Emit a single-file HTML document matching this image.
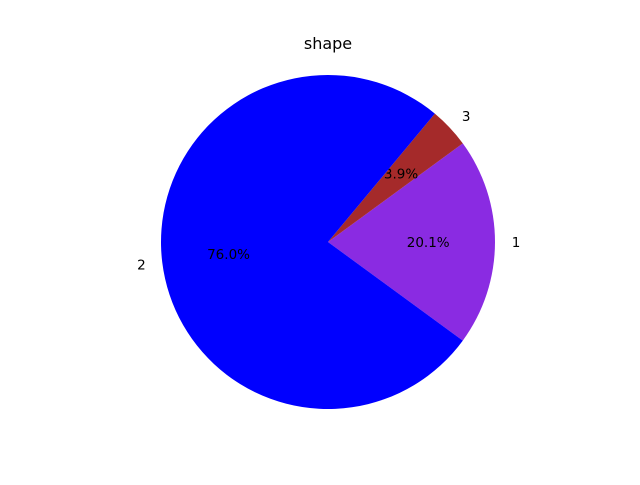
<!DOCTYPE html>
<html><head><meta charset="utf-8"><style>
body{margin:0;background:#fff;}
text{font-family:"DejaVu Sans","Liberation Sans",sans-serif;}
</style></head><body>
<svg id="chart" width="640" height="480" viewBox="0 0 640 480" xmlns="http://www.w3.org/2000/svg">
<rect width="640" height="480" fill="#fff"/>
<text x="328" y="49" text-anchor="middle" font-size="16">shape</text>
<g id="slices"></g>
</svg>
<script>
const labels = ["1", "3", "2"];
const values = [20.1, 3.9, 76.0];
const colors = ["#8a2be2", "#a52a2a", "#0000ff"];
const cx = 328, cy = 242, r = 167;
const total = values.reduce((a,b)=>a+b,0);
const g = document.getElementById('slices');
const NS = "http://www.w3.org/2000/svg";
let start = -values[0]/total*180;
function pt(a, rad){ const t=a*Math.PI/180; return [cx+rad*Math.cos(t), cy-rad*Math.sin(t)]; }
values.forEach((v,i)=>{
  const span = v/total*360, end = start+span;
  const [x1,y1]=pt(start,r), [x2,y2]=pt(end,r);
  const p=document.createElementNS(NS,'path');
  p.setAttribute('d',`M${cx},${cy} L${x1},${y1} A${r},${r} 0 ${span>180?1:0} 0 ${x2},${y2} Z`);
  p.setAttribute('fill',colors[i]);
  
  
  g.appendChild(p);
  const mid=start+span/2;
  const [lx,ly]=pt(mid,r*1.1);
  const t=document.createElementNS(NS,'text');
  t.setAttribute('x',lx); t.setAttribute('y',ly+5);
  t.setAttribute('font-size','13.5');
  t.setAttribute('text-anchor', Math.cos(mid*Math.PI/180)>=0?'start':'end');
  t.textContent=labels[i];
  
  
  g.appendChild(t);
  const [px,py]=pt(mid,r*0.6);
  const q=document.createElementNS(NS,'text');
  q.setAttribute('x',px); q.setAttribute('y',py+5);
  q.setAttribute('font-size','13.5');
  q.setAttribute('text-anchor','middle');
  q.textContent=v.toFixed(1)+'%';
  
  
  g.appendChild(q);
  start=end;
});
</script>
</body></html>
